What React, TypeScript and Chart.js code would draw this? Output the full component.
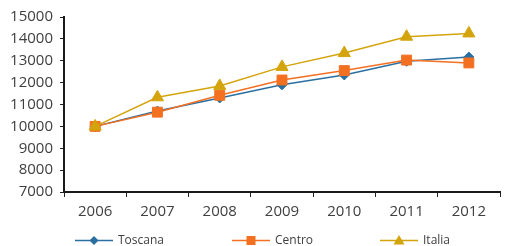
import React, { useEffect, useRef } from "react";
import { Chart, registerables } from "chart.js";

Chart.register(...registerables);

const categories = ["2006", "2007", "2008", "2009", "2010", "2011", "2012"];
const toscana = [10000, 10700, 11300, 11900, 12350, 12980, 13170];
const centro = [10000, 10650, 11420, 12120, 12550, 13030, 12900];
const italia = [10000, 11330, 11850, 12720, 13350, 14100, 14250];
const seriesNames = ["Toscana", "Centro", "Italia"];
const yMin = 7000;
const yMax = 15000;
const yStep = 1000;

const COLORS = ["#2A6FA1", "#F37021", "#D4A40C"];
const STYLES = ["rectRot", "rect", "triangle"];
const RADII = [5, 7, 7];
const FONT = '"Open Sans", sans-serif';

const lineLegend = {
  id: "lineLegend",
  afterDraw(chart: any) {
    const ctx = chart.ctx;
    const starts = [75, 232, 380];
    const y = 240.5;
    ctx.save();
    chart.data.datasets.forEach((ds: any, i: number) => {
      const x0 = starts[i];
      ctx.strokeStyle = ds.borderColor;
      ctx.lineWidth = 1.5;
      ctx.beginPath();
      ctx.moveTo(x0, y);
      ctx.lineTo(x0 + 38, y);
      ctx.stroke();
      ctx.fillStyle = ds.borderColor;
      ctx.beginPath();
      const cx = x0 + 19;
      if (ds.pointStyle === "rectRot") {
        ctx.moveTo(cx, y - 4.5);
        ctx.lineTo(cx + 4.5, y);
        ctx.lineTo(cx, y + 4.5);
        ctx.lineTo(cx - 4.5, y);
      } else if (ds.pointStyle === "rect") {
        ctx.rect(cx - 4.5, y - 4.5, 9, 9);
      } else {
        ctx.moveTo(cx, y - 5.5);
        ctx.lineTo(cx + 5.5, y + 4);
        ctx.lineTo(cx - 5.5, y + 4);
      }
      ctx.closePath();
      ctx.fill();
      ctx.fillStyle = "#404040";
      ctx.font = "12px " + FONT;
      ctx.textBaseline = "middle";
      ctx.textAlign = "left";
      ctx.fillText(ds.label, x0 + 43, y);
    });
    ctx.restore();
  },
};

export default function App() {
  const ref = useRef<HTMLCanvasElement | null>(null);
  useEffect(() => {
    if (!ref.current) return;
    const series = [toscana, centro, italia];
    const chart = new Chart(ref.current, {
      type: "line",
      data: {
        labels: categories,
        datasets: series.map((d, i) => ({
          label: seriesNames[i],
          data: d,
          borderColor: COLORS[i],
          backgroundColor: COLORS[i],
          pointBackgroundColor: COLORS[i],
          pointBorderColor: COLORS[i],
          pointStyle: STYLES[i] as any,
          pointRadius: RADII[i],
          pointBorderWidth: 1,
          borderWidth: 1.5,
          tension: 0,
          fill: false,
          order: 3 - i,
        })),
      },
      options: {
        responsive: false,
        animation: false,
        devicePixelRatio: 1,
        layout: { padding: { top: 17, right: 1, bottom: 20, left: 0 } },
        plugins: {
          legend: { display: false },
          tooltip: { enabled: false },
        },
        scales: {
          x: {
            offset: true,
            grid: {
              offset: true,
              drawOnChartArea: false,
              drawTicks: true,
              tickLength: 5,
              color: "#222",
            },
            border: { color: "#1a1a1a", width: 2 },
            ticks: {
              color: "#404040",
              font: { family: FONT, size: 15 },
              padding: 6,
              maxRotation: 0,
            },
            afterFit: (s: any) => {
              s.height = 34;
            },
          },
          y: {
            min: yMin,
            max: yMax,
            grid: {
              drawOnChartArea: false,
              drawTicks: true,
              tickLength: 4,
              color: "#222",
            },
            border: { color: "#1a1a1a", width: 2 },
            ticks: {
              stepSize: yStep,
              color: "#404040",
              font: { family: FONT, size: 15 },
              padding: 7,
              callback: (v: any) => String(v),
            },
            afterFit: (s: any) => {
              s.width = 64;
            },
          },
        },
      },
      plugins: [lineLegend],
    });
    return () => chart.destroy();
  }, []);
  return (
    <div style={{ position: "fixed", left: 0, top: 0, width: 508, height: 246, background: "#fff" }}>
      <canvas ref={ref} width={508} height={246} style={{ width: 508, height: 246 }} />
    </div>
  );
}
